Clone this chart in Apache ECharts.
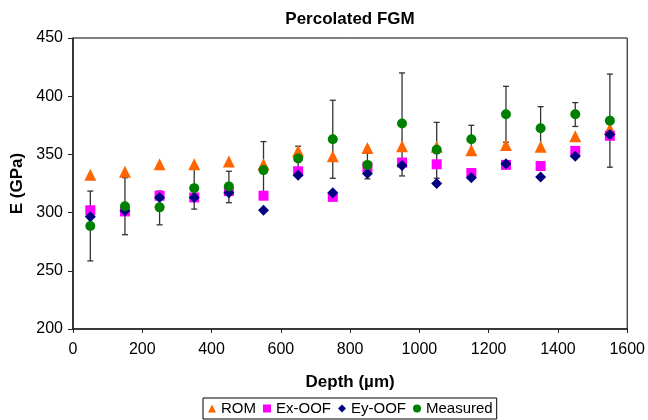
<!DOCTYPE html>
<html><head><meta charset="utf-8">
<script src="https://cdn.jsdelivr.net/npm/echarts@6/dist/echarts.min.js"></script>
<style>html,body{margin:0;padding:0;background:#fff}#c{width:648px;height:420px}</style>
</head><body><div id="c"></div>
<script>
const depth = [50,150,250,350,450,550,650,750,850,950,1050,1150,1250,1350,1450,1550];
const rom = [332.5,335,341.5,341.5,344,341.5,353,348.5,355.5,357,356.5,353.5,358,356.5,365.5,372];
const exOOF = [302,301,314.5,313,318.5,314.5,335.5,313.5,339,343,341.5,334,341,340,353,366];
const eyOOF = [296.5,301.5,313,313,317,302,332,317,333.5,340.5,325,330,342,330.5,348.5,367];
const measured = [288.5,305.5,304.5,321,322.5,336.5,346.5,363,341,376.5,354,363,384.5,372.5,384.5,379];
const errLow = [258.5,281,289.5,303,308.5,312,336,329.5,329,331.5,329.5,349.5,360.5,353.5,374,339];
const errHigh = [318.5,330,318.5,339,335.5,361,357,396.5,353,420,377.5,375,408.5,391,394.5,419];

const font = 'Liberation Sans, Arial, sans-serif';
const chart = echarts.init(document.getElementById('c'));
const errData = depth.map((d,i)=>[d, errLow[i], errHigh[i]]);
chart.setOption({
  animation:false,
  title:{text:'Percolated FGM',left:345,top:6,textAlign:'center',textStyle:{fontFamily:font,fontSize:17,fontWeight:'bold',color:'#000'}},
  grid:{left:73,right:18,top:38,bottom:91,show:true,borderColor:'#000',borderWidth:1,backgroundColor:'transparent'},
  xAxis:{type:'value',min:0,max:1600,interval:200,
    name:'Depth (µm)',nameLocation:'middle',nameGap:45,
    nameTextStyle:{fontFamily:font,fontSize:17,fontWeight:'bold',color:'#000'},
    axisLine:{lineStyle:{color:'#222',width:1.5}},axisTick:{inside:false,length:4,lineStyle:{color:'#222'}},
    axisLabel:{fontFamily:font,fontSize:16,color:'#000',margin:13,formatter:function(v){return String(v);}},splitLine:{show:false}},
  yAxis:{type:'value',min:200,max:450,interval:50,
    name:'E (GPa)',nameLocation:'middle',nameGap:41,
    nameTextStyle:{fontFamily:font,fontSize:17,fontWeight:'bold',color:'#000'},
    axisLine:{show:true,lineStyle:{color:'#222',width:1.5}},axisTick:{show:true,inside:false,length:5,lineStyle:{color:'#222'}},
    axisLabel:{fontFamily:font,fontSize:16,color:'#000',margin:10},splitLine:{show:false}},
  legend:{bottom:1,left:203,itemGap:7,itemWidth:8,itemHeight:8,
    borderColor:'#000',borderWidth:1,padding:[3,4,3,5],borderRadius:0,
    textStyle:{fontFamily:font,fontSize:15,color:'#000'},
    data:[{name:'ROM',icon:'triangle'},{name:'Ex-OOF',icon:'rect'},{name:'Ey-OOF',icon:'diamond'},{name:'Measured',icon:'circle'}]},
  series:[
    {type:'custom',name:'err',silent:true,z:1,
      renderItem:function(params,api){
        const x=api.value(0);
        const lo=api.coord([x,api.value(1)]);
        const hi=api.coord([x,api.value(2)]);
        const w=3;
        const st={stroke:'#333',lineWidth:1.3};
        return {type:'group',children:[
          {type:'line',shape:{x1:lo[0],y1:lo[1],x2:hi[0],y2:hi[1]},style:st},
          {type:'line',shape:{x1:lo[0]-w,y1:lo[1],x2:lo[0]+w,y2:lo[1]},style:st},
          {type:'line',shape:{x1:hi[0]-w,y1:hi[1],x2:hi[0]+w,y2:hi[1]},style:st}
        ]};
      },
      encode:{x:0,y:[1,2]},data:errData},
    {type:'scatter',name:'ROM',symbol:'triangle',symbolSize:12,itemStyle:{color:'#FF6600',opacity:1},z:3,
      data:depth.map((d,i)=>[d,rom[i]])},
    {type:'scatter',name:'Ex-OOF',symbol:'rect',symbolSize:10,itemStyle:{color:'#FF00FF',opacity:1},z:4,
      data:depth.map((d,i)=>[d,exOOF[i]])},
    {type:'scatter',name:'Ey-OOF',symbol:'diamond',symbolSize:11,itemStyle:{color:'#000080',opacity:1},z:5,
      data:depth.map((d,i)=>[d,eyOOF[i]])},
    {type:'scatter',name:'Measured',symbol:'circle',symbolSize:10,itemStyle:{color:'#008000',opacity:1},z:6,
      data:depth.map((d,i)=>[d,measured[i]])}
  ]
});
</script></body></html>
